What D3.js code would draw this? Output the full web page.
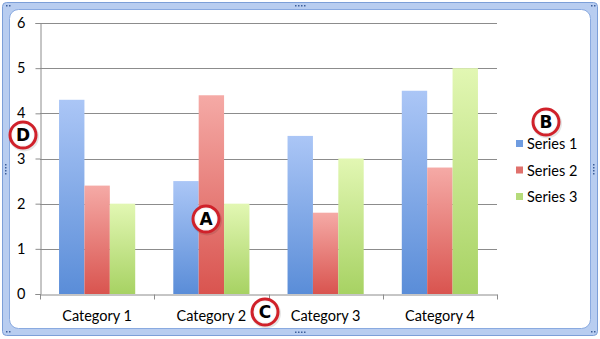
<!DOCTYPE html>
<html>
<head>
<meta charset="utf-8">
<script src="https://cdn.jsdelivr.net/npm/d3@7"></script>
<style>
  html, body { margin: 0; padding: 0; background: #fff; }
  svg { display: block; }
</style>
</head>
<body>
<svg id="chart" width="600" height="339"></svg>
<script>
// Chart data
const categories = ["Category 1", "Category 2", "Category 3", "Category 4"];
const seriesNames = ["Series 1", "Series 2", "Series 3"];
const series1 = [4.3, 2.5, 3.5, 4.5];
const series2 = [2.4, 4.4, 1.8, 2.8];
const series3 = [2, 2, 3, 5];
const yTicks = [0, 1, 2, 3, 4, 5, 6];

const seriesValues = [series1, series2, series3];
const topColors = ["#abc6f6", "#f5aaa6", "#e2f7b3"];
const bottomColors = ["#5a8dd8", "#d9544f", "#a7d263"];
const legendColors = ["#6f9ce0", "#e0716c", "#b5db7a"];

const svg = d3.select("#chart");
const W = 600, H = 339;
const font = "Lato, 'Open Sans', sans-serif";

// Selection frame around the chart
const defs = svg.append("defs");
svg.append("rect").attr("x", 2.5).attr("y", 2.5).attr("width", W - 5).attr("height", H - 6)
  .attr("rx", 4).attr("fill", "#b8cdf0").attr("stroke", "#7c9fd8");
svg.append("rect").attr("x", 9.5).attr("y", 9.5).attr("width", W - 19).attr("height", H - 20)
  .attr("rx", 9).attr("fill", "#fff").attr("stroke", "#8aaae0");

// Grip dots on frame handles
function grip(cx, cy, vertical) {
  for (let i = -1.5; i <= 1.5; i++) {
    svg.append("rect")
      .attr("x", vertical ? cx - 0.5 : cx + i * 3 - 0.5)
      .attr("y", vertical ? cy + i * 3 - 0.5 : cy - 0.5)
      .attr("width", 1.5).attr("height", 1.5).attr("fill", "#3d5f9a");
  }
}
grip(300, 5.5, false);
grip(300, 332, false);
grip(5.5, 169, true);
grip(593.5, 169, true);
[[7, 6], [592, 6], [7, 332], [592, 332]].forEach(([x, y]) => {
  svg.append("rect").attr("x", x - 1).attr("y", y - 1).attr("width", 1.5).attr("height", 1.5).attr("fill", "#3d5f9a");
  svg.append("rect").attr("x", x + 2).attr("y", y - 1).attr("width", 1.5).attr("height", 1.5).attr("fill", "#3d5f9a");
});

// Plot area
const plot = { left: 40, right: 497, top: 23, bottom: 294 };

const x0 = d3.scaleBand().domain(categories).range([plot.left, plot.right])
  .paddingInner(0).paddingOuter(0);
const groupW = x0.bandwidth();
const barW = groupW / 4.5;
const x1 = d3.scaleBand().domain(seriesNames)
  .range([0.75 * barW, 3.75 * barW]).padding(0);
const y = d3.scaleLinear().domain([0, 6]).range([plot.bottom, plot.top]);

// Gradients for bars
seriesNames.forEach((s, i) => {
  const g = defs.append("linearGradient").attr("id", "grad" + i)
    .attr("x1", 0).attr("y1", 0).attr("x2", 0).attr("y2", 1);
  g.append("stop").attr("offset", "0%").attr("stop-color", topColors[i]);
  g.append("stop").attr("offset", "100%").attr("stop-color", bottomColors[i]);
});

// Gridlines
svg.append("g").selectAll("line").data(yTicks.slice(1)).join("line")
  .attr("x1", plot.left).attr("x2", plot.right)
  .attr("y1", d => Math.round(y(d)) + 0.5).attr("y2", d => Math.round(y(d)) + 0.5)
  .attr("stroke", "#8c8c8c").attr("stroke-width", 1);

// Y axis
const yAxis = d3.axisLeft(y).tickValues(yTicks).tickSize(5).tickPadding(10).tickFormat(d3.format("d"));
const yg = svg.append("g").attr("transform", `translate(${plot.left + 0.5},0)`).call(yAxis);
yg.select(".domain").attr("stroke", "#8c8c8c");
yg.selectAll(".tick line").attr("stroke", "#8c8c8c");
yg.selectAll(".tick text").attr("font-family", font).attr("font-size", 14.5).attr("fill", "#000");

// Bars
const groups = svg.append("g").selectAll("g").data(categories).join("g")
  .attr("transform", d => `translate(${x0(d)},0)`);
groups.selectAll("rect").data((c, ci) => seriesNames.map((s, si) => ({ s, si, v: seriesValues[si][ci] })))
  .join("rect")
  .attr("x", d => x1(d.s))
  .attr("width", x1.bandwidth())
  .attr("y", d => y(d.v))
  .attr("height", d => y(0) - y(d.v))
  .attr("fill", d => `url(#grad${d.si})`);

// X axis
const xAxis = d3.axisBottom(x0).tickSize(0).tickPadding(16);
const xg = svg.append("g").attr("transform", `translate(0,${plot.bottom + 0.5})`).call(xAxis);
xg.select(".domain").attr("stroke", "#8c8c8c");
xg.selectAll(".tick text").attr("font-family", font).attr("font-size", 14.5).attr("fill", "#000");
// Tick marks between categories
const boundaries = categories.map(c => x0(c)).concat([plot.right]);
xg.selectAll(".bound").data(boundaries).join("line").attr("class", "bound")
  .attr("x1", d => Math.round(d) + 0.5).attr("x2", d => Math.round(d) + 0.5)
  .attr("y1", 0).attr("y2", 5).attr("stroke", "#8c8c8c");

// Legend
const legend = svg.append("g").attr("transform", "translate(516,144)");
seriesNames.forEach((s, i) => {
  const row = legend.append("g").attr("transform", `translate(0,${i * 26.5})`);
  row.append("rect").attr("x", 0).attr("y", -4).attr("width", 7).attr("height", 7)
    .attr("fill", legendColors[i]);
  row.append("text").attr("x", 11).attr("y", 0).attr("dy", "0.35em")
    .attr("font-family", font).attr("font-size", 14.5).attr("fill", "#000").text(s);
});

// Callout markers
const callouts = [
  { label: "A", x: 206, y: 219 },
  { label: "B", x: 546, y: 122 },
  { label: "C", x: 265, y: 312 },
  { label: "D", x: 23, y: 135 }
];
const rg = defs.append("radialGradient").attr("id", "ring");
rg.append("stop").attr("offset", "75%").attr("stop-color", "#ffffff");
rg.append("stop").attr("offset", "100%").attr("stop-color", "#e6e6e6");
const cg = svg.append("g").selectAll("g").data(callouts).join("g")
  .attr("transform", d => `translate(${d.x},${d.y})`);
cg.append("circle").attr("r", 15).attr("fill", "rgba(0,0,0,0.10)").attr("cx", 1).attr("cy", 1.5);
cg.append("circle").attr("r", 13).attr("fill", "url(#ring)").attr("stroke", "#d0212a").attr("stroke-width", 3);
cg.append("text").attr("text-anchor", "middle").attr("dy", "0.36em")
  .attr("font-family", "'DejaVu Sans', 'Liberation Sans', Arial, sans-serif").attr("font-weight", "bold")
  .attr("font-size", 17).attr("fill", "#000").text(d => d.label);
</script>
</body>
</html>
